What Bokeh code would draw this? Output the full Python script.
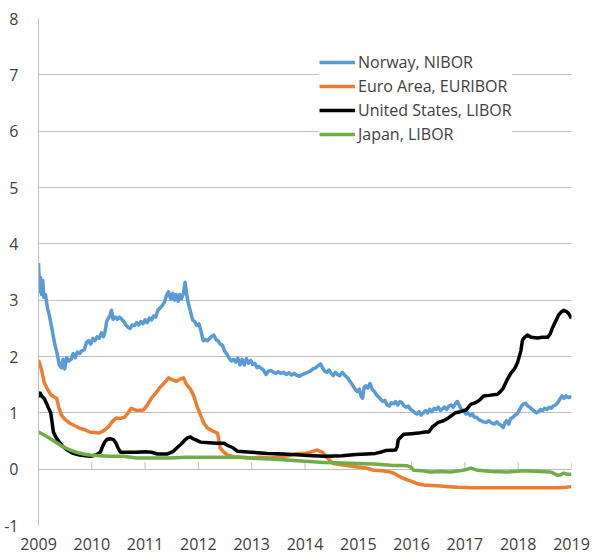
from bokeh.plotting import figure
from bokeh.models import Range1d, FixedTicker, Legend, LegendItem
from bokeh.embed import file_html
from bokeh.resources import INLINE

# 3-month interbank rates, percent (time as decimal year)
nibor_t = [2009.00, 2009.02, 2009.04, 2009.06, 2009.08, 2009.10, 2009.13, 2009.17, 2009.21, 2009.26,
           2009.31, 2009.35, 2009.39, 2009.43, 2009.46, 2009.49, 2009.53, 2009.57, 2009.61, 2009.65,
           2009.69, 2009.73, 2009.77, 2009.81, 2009.86, 2009.90, 2009.94, 2009.98, 2010.02, 2010.06,
           2010.10, 2010.14, 2010.18, 2010.22, 2010.25, 2010.28, 2010.31, 2010.34, 2010.37, 2010.40,
           2010.44, 2010.48, 2010.52, 2010.56, 2010.60, 2010.64, 2010.68, 2010.72, 2010.76, 2010.80,
           2010.84, 2010.88, 2010.92, 2010.96, 2011.00, 2011.04, 2011.08, 2011.12, 2011.16, 2011.20,
           2011.24, 2011.28, 2011.32, 2011.36, 2011.40, 2011.44, 2011.48, 2011.52, 2011.55, 2011.58,
           2011.62, 2011.65, 2011.68, 2011.72, 2011.75, 2011.78, 2011.81, 2011.85, 2011.89, 2011.93,
           2011.97, 2012.01, 2012.05, 2012.09, 2012.13, 2012.17, 2012.21, 2012.25, 2012.29, 2012.33,
           2012.37, 2012.41, 2012.45, 2012.49, 2012.53, 2012.57, 2012.62, 2012.66, 2012.70, 2012.74,
           2012.78, 2012.82, 2012.86, 2012.90, 2012.94, 2012.98, 2013.02, 2013.06, 2013.10, 2013.14,
           2013.18, 2013.22, 2013.27, 2013.31, 2013.36, 2013.41, 2013.46, 2013.50, 2013.55, 2013.60,
           2013.65, 2013.70, 2013.75, 2013.80, 2013.85, 2013.90, 2013.95, 2014.00, 2014.05, 2014.10,
           2014.15, 2014.20, 2014.25, 2014.29, 2014.33, 2014.37, 2014.41, 2014.45, 2014.49, 2014.53,
           2014.57, 2014.61, 2014.65, 2014.70, 2014.75, 2014.80, 2014.85, 2014.90, 2014.94, 2014.98,
           2015.02, 2015.05, 2015.08, 2015.11, 2015.14, 2015.18, 2015.22, 2015.26, 2015.30, 2015.34,
           2015.38, 2015.42, 2015.46, 2015.50, 2015.54, 2015.58, 2015.62, 2015.66, 2015.70, 2015.74,
           2015.78, 2015.82, 2015.86, 2015.90, 2015.94, 2015.98, 2016.02, 2016.06, 2016.10, 2016.14,
           2016.18, 2016.22, 2016.26, 2016.30, 2016.34, 2016.38, 2016.42, 2016.46, 2016.50, 2016.54,
           2016.58, 2016.62, 2016.66, 2016.70, 2016.74, 2016.78, 2016.82, 2016.86, 2016.90, 2016.94,
           2016.98, 2017.02, 2017.06, 2017.10, 2017.14, 2017.18, 2017.22, 2017.26, 2017.30, 2017.35,
           2017.40, 2017.45, 2017.50, 2017.55, 2017.60, 2017.64, 2017.68, 2017.72, 2017.75, 2017.78,
           2017.82, 2017.86, 2017.90, 2017.94, 2017.98, 2018.02, 2018.06, 2018.10, 2018.14, 2018.18,
           2018.22, 2018.26, 2018.30, 2018.34, 2018.38, 2018.42, 2018.46, 2018.50, 2018.54, 2018.58,
           2018.62, 2018.66, 2018.70, 2018.74, 2018.78, 2018.82, 2018.86, 2018.90, 2018.94, 2018.98,
           2019.00]
nibor_v = [3.66, 3.15, 3.40, 3.10, 3.35, 3.05, 3.10, 2.85, 2.70, 2.45,
           2.20, 2.05, 1.85, 1.80, 1.95, 1.78, 1.98, 1.92, 1.95, 2.05,
           1.98, 2.08, 2.05, 2.10, 2.12, 2.25, 2.28, 2.22, 2.32, 2.28,
           2.35, 2.32, 2.42, 2.35, 2.45, 2.62, 2.68, 2.72, 2.82, 2.66,
           2.70, 2.66, 2.70, 2.66, 2.62, 2.56, 2.52, 2.50, 2.56, 2.55,
           2.60, 2.56, 2.62, 2.58, 2.65, 2.60, 2.68, 2.65, 2.72, 2.70,
           2.82, 2.86, 2.90, 2.96, 3.08, 3.15, 3.02, 3.12, 3.00, 3.10,
           2.98, 3.10, 3.02, 3.12, 3.32, 3.10, 2.95, 2.80, 2.65, 2.62,
           2.55, 2.58, 2.45, 2.28, 2.30, 2.28, 2.32, 2.36, 2.38, 2.30,
           2.28, 2.22, 2.20, 2.10, 2.05, 1.98, 1.92, 1.95, 1.90, 1.97,
           1.85, 1.95, 1.85, 1.96, 1.88, 1.93, 1.86, 1.88, 1.80, 1.82,
           1.79, 1.76, 1.68, 1.74, 1.75, 1.72, 1.70, 1.73, 1.70, 1.72,
           1.68, 1.71, 1.67, 1.70, 1.66, 1.65, 1.68, 1.70, 1.72, 1.74,
           1.78, 1.80, 1.84, 1.87, 1.80, 1.74, 1.72, 1.76, 1.70, 1.66,
           1.72, 1.68, 1.66, 1.72, 1.66, 1.62, 1.55, 1.48, 1.42, 1.38,
           1.42, 1.30, 1.26, 1.45, 1.48, 1.44, 1.52, 1.42, 1.38, 1.32,
           1.28, 1.24, 1.20, 1.22, 1.14, 1.12, 1.18, 1.16, 1.20, 1.14,
           1.20, 1.18, 1.12, 1.10, 1.12, 1.06, 1.04, 1.00, 0.98, 1.02,
           0.96, 1.00, 1.04, 1.00, 1.06, 1.02, 1.08, 1.06, 1.10, 1.04,
           1.07, 1.10, 1.06, 1.12, 1.14, 1.10, 1.16, 1.20, 1.12, 1.05,
           1.04, 0.98, 1.00, 0.95, 0.98, 0.92, 0.92, 0.88, 0.86, 0.84,
           0.83, 0.86, 0.82, 0.80, 0.84, 0.80, 0.78, 0.74, 0.82, 0.86,
           0.80, 0.90, 0.92, 0.96, 0.98, 1.05, 1.12, 1.16, 1.17, 1.12,
           1.10, 1.06, 1.03, 1.00, 1.02, 1.06, 1.04, 1.08, 1.06, 1.10,
           1.08, 1.12, 1.14, 1.18, 1.24, 1.30, 1.26, 1.30, 1.27, 1.28,
           1.27]

euribor_t = [2009.00, 2009.06, 2009.11, 2009.18, 2009.24, 2009.30, 2009.34, 2009.38, 2009.43, 2009.50,
             2009.58, 2009.68, 2009.77, 2009.87, 2009.96, 2010.05, 2010.13, 2010.22, 2010.31, 2010.38,
             2010.46, 2010.53, 2010.61, 2010.68, 2010.74, 2010.85, 2010.97, 2011.05, 2011.12, 2011.20,
             2011.27, 2011.35, 2011.44, 2011.52, 2011.59, 2011.66, 2011.72, 2011.78, 2011.85, 2011.91,
             2011.98, 2012.04, 2012.10, 2012.17, 2012.26, 2012.36, 2012.41, 2012.48, 2012.55, 2012.65,
             2012.79, 2013.00, 2013.17, 2013.35, 2013.54, 2013.70, 2013.86, 2014.01, 2014.10, 2014.16,
             2014.23, 2014.33, 2014.42, 2014.53, 2014.75, 2014.98, 2015.15, 2015.29, 2015.45, 2015.60,
             2015.70, 2015.79, 2015.92, 2016.04, 2016.12, 2016.22, 2016.38, 2016.54, 2016.70, 2016.86,
             2017.16, 2017.50, 2017.80, 2018.04, 2018.40, 2018.74, 2018.90, 2019.00]
euribor_v = [1.94, 1.75, 1.53, 1.40, 1.31, 1.28, 1.26, 1.10, 0.96, 0.88,
             0.82, 0.77, 0.73, 0.70, 0.66, 0.65, 0.64, 0.68, 0.75, 0.84,
             0.91, 0.90, 0.92, 1.00, 1.08, 1.04, 1.05, 1.15, 1.26, 1.35,
             1.44, 1.52, 1.62, 1.58, 1.56, 1.60, 1.62, 1.50, 1.42, 1.31,
             1.10, 0.96, 0.82, 0.73, 0.68, 0.64, 0.37, 0.30, 0.25, 0.22,
             0.21, 0.20, 0.21, 0.20, 0.22, 0.24, 0.28, 0.28, 0.30, 0.32,
             0.34, 0.30, 0.20, 0.10, 0.07, 0.04, 0.02, -0.02, -0.03, -0.05,
             -0.09, -0.14, -0.19, -0.23, -0.26, -0.28, -0.29, -0.30, -0.31, -0.32,
             -0.33, -0.33, -0.33, -0.33, -0.33, -0.33, -0.32, -0.31]

us_libor_t = [2009.00, 2009.03, 2009.06, 2009.11, 2009.16, 2009.19, 2009.23, 2009.28, 2009.33, 2009.39,
              2009.46, 2009.54, 2009.65, 2009.77, 2009.88, 2009.98, 2010.08, 2010.16, 2010.20, 2010.24,
              2010.29, 2010.36, 2010.41, 2010.46, 2010.50, 2010.54, 2010.70, 2010.84, 2011.00, 2011.12,
              2011.23, 2011.42, 2011.52, 2011.61, 2011.68, 2011.74, 2011.80, 2011.85, 2011.90, 2011.95,
              2012.04, 2012.20, 2012.36, 2012.48, 2012.55, 2012.65, 2012.73, 2012.98, 2013.30, 2013.60,
              2013.92, 2014.15, 2014.38, 2014.70, 2014.95, 2015.15, 2015.32, 2015.45, 2015.51, 2015.70,
              2015.73, 2015.75, 2015.85, 2016.00, 2016.13, 2016.25, 2016.32, 2016.39, 2016.50, 2016.60,
              2016.69, 2016.82, 2016.92, 2017.02, 2017.11, 2017.20, 2017.28, 2017.35, 2017.45, 2017.61,
              2017.67, 2017.72, 2017.80, 2017.86, 2017.93, 2017.99, 2018.05, 2018.08, 2018.13, 2018.17,
              2018.25, 2018.36, 2018.45, 2018.55, 2018.60, 2018.64, 2018.70, 2018.76, 2018.82, 2018.85,
              2018.90, 2018.94, 2019.00]
us_libor_v = [1.28, 1.35, 1.30, 1.25, 1.15, 1.08, 1.00, 0.66, 0.56, 0.48,
              0.40, 0.34, 0.28, 0.25, 0.24, 0.23, 0.25, 0.30, 0.40, 0.48,
              0.53, 0.54, 0.52, 0.45, 0.36, 0.30, 0.30, 0.30, 0.31, 0.30,
              0.27, 0.27, 0.31, 0.39, 0.45, 0.51, 0.56, 0.57, 0.54, 0.52,
              0.48, 0.47, 0.46, 0.46, 0.42, 0.38, 0.32, 0.30, 0.28, 0.27,
              0.25, 0.24, 0.23, 0.24, 0.26, 0.27, 0.28, 0.31, 0.33, 0.34,
              0.40, 0.52, 0.62, 0.63, 0.64, 0.66, 0.66, 0.75, 0.83, 0.86,
              0.91, 1.00, 1.02, 1.05, 1.15, 1.18, 1.23, 1.30, 1.31, 1.33,
              1.38, 1.44, 1.60, 1.70, 1.78, 1.90, 2.10, 2.29, 2.35, 2.38,
              2.34, 2.33, 2.34, 2.34, 2.40, 2.50, 2.62, 2.74, 2.80, 2.82,
              2.80, 2.77, 2.68]

jp_libor_t = [2009.00, 2009.10, 2009.21, 2009.34, 2009.47, 2009.60, 2009.71, 2009.84, 2009.96, 2010.15,
              2010.33, 2010.59, 2010.84, 2011.15, 2011.46, 2011.78, 2012.30, 2012.79, 2013.10, 2013.35,
              2013.73, 2014.00, 2014.35, 2014.70, 2014.98, 2015.30, 2015.60, 2015.92, 2015.98, 2016.04,
              2016.20, 2016.35, 2016.55, 2016.73, 2016.90, 2017.05, 2017.11, 2017.24, 2017.50, 2017.80,
              2018.10, 2018.42, 2018.61, 2018.68, 2018.74, 2018.80, 2018.85, 2018.92, 2019.00]
jp_libor_v = [0.66, 0.61, 0.55, 0.47, 0.39, 0.34, 0.30, 0.27, 0.25, 0.24,
              0.23, 0.23, 0.20, 0.20, 0.20, 0.21, 0.21, 0.21, 0.19, 0.18,
              0.16, 0.14, 0.12, 0.11, 0.10, 0.09, 0.07, 0.06, 0.04, -0.02,
              -0.03, -0.05, -0.04, -0.05, -0.03, 0.00, 0.02, -0.02, -0.04, -0.05,
              -0.03, -0.04, -0.05, -0.08, -0.11, -0.10, -0.07, -0.09, -0.09]

series_names = ["Norway, NIBOR", "Euro Area, EURIBOR", "United States, LIBOR", "Japan, LIBOR"]
series_colors = ["#5B9BD5", "#ED7D31", "#000000", "#70AD47"]

year_ticks = list(range(2009, 2020))
value_ticks = list(range(-1, 9))

FONT = "Open Sans"
TEXT = "#404040"
GRID = "#BFBFBF"

p = figure(width=593, height=555, output_backend="svg", toolbar_location=None,
           x_range=Range1d(2009, 2019), y_range=Range1d(-1, 8),
           min_border_left=38, min_border_right=22, min_border_top=18, min_border_bottom=30)
p.outline_line_color = None
p.background_fill_color = "white"
p.border_fill_color = "white"

p.xgrid.grid_line_color = None
p.ygrid.grid_line_color = GRID
p.ygrid.grid_line_width = 1
p.yaxis.ticker = FixedTicker(ticks=value_ticks)
p.xaxis.ticker = FixedTicker(ticks=year_ticks)

p.yaxis.axis_line_color = GRID
p.yaxis.major_tick_line_color = None
p.yaxis.minor_tick_line_color = None
p.yaxis.major_label_standoff = 14
p.yaxis.major_label_text_font = FONT
p.yaxis.major_label_text_font_size = "16px"
p.yaxis.major_label_text_color = TEXT
p.yaxis.major_label_overrides = {-1: "-1"}

p.xaxis.axis_line_color = None
p.xaxis.major_tick_line_color = None
p.xaxis.minor_tick_line_color = None
p.xaxis.major_label_standoff = 6
p.xaxis.major_label_text_font = FONT
p.xaxis.major_label_text_font_size = "16px"
p.xaxis.major_label_text_color = TEXT

# year tick marks standing on the zero line
p.segment(x0=year_ticks, y0=[0] * len(year_ticks), x1=year_ticks, y1=[0.13] * len(year_ticks),
          line_color=GRID, line_width=1)

renderers = []
for t, v, c in zip([nibor_t, euribor_t, us_libor_t, jp_libor_t],
                   [nibor_v, euribor_v, us_libor_v, jp_libor_v], series_colors):
    renderers.append(p.line(t, v, line_color=c, line_width=3.5, line_join="round"))

legend = Legend(items=[LegendItem(label=n, renderers=[r]) for n, r in zip(series_names, renderers)],
                location=(281, 380), margin=0, padding=23, spacing=2,
                glyph_width=36, glyph_height=20, label_height=20, label_standoff=3,
                label_text_font=FONT, label_text_font_size="16px", label_text_color=TEXT,
                border_line_color=None, background_fill_color="white", background_fill_alpha=1.0)
p.add_layout(legend)

open("out.html", "w").write(file_html(p, INLINE))
